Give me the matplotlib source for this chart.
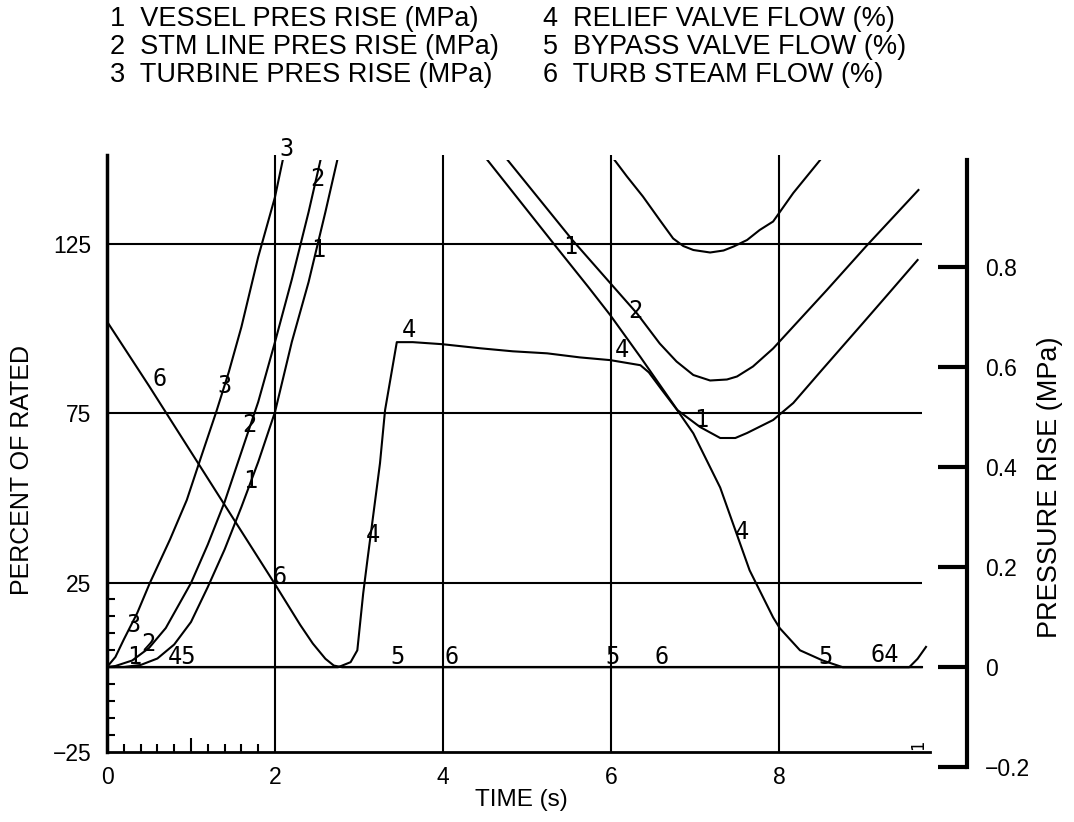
import matplotlib
matplotlib.use("Agg")
import matplotlib.pyplot as plt
import numpy as np

plt.rcParams['font.family'] = ['Liberation Sans', 'DejaVu Sans']

# ---- data ----
# pressure curves (MPa, right scale); NaN = off scale, not drawn
t_vessel = [0, 0.2, 0.4, 0.6, 0.8, 1.0, 1.2, 1.4, 1.6, 1.8, 2.0, 2.2, 2.4, 2.6, 2.75, 2.8,
            np.nan,
            4.45, 4.5, 5.33, 5.73, 5.99, 6.35, 6.79, 7.06, 7.3, 7.48, 7.62, 7.93, 8.17, 8.5, 9.0, 9.3, 9.65]
p_vessel = [0, 0, 0.004, 0.017, 0.045, 0.09, 0.16, 0.235, 0.32, 0.41, 0.51, 0.65, 0.77, 0.91, 1.02, 1.06,
            np.nan,
            1.06, 1.02, 0.844, 0.76, 0.704, 0.62, 0.514, 0.48, 0.458, 0.458, 0.468, 0.494, 0.528, 0.592, 0.688, 0.746, 0.814]

t_stmline = [0, 0.1, 0.3, 0.5, 0.7, 1.0, 1.2, 1.4, 1.6, 1.8, 2.0, 2.2, 2.4, 2.55, 2.62,
             np.nan,
             4.68, 4.74, 5.54, 5.99, 6.31, 6.58, 6.78, 6.98, 7.18, 7.38, 7.5, 7.69, 7.93, 8.57, 9.04, 9.66]
p_stmline = [0, 0.002, 0.013, 0.038, 0.078, 0.168, 0.245, 0.33, 0.43, 0.53, 0.65, 0.775, 0.91, 1.02, 1.07,
             np.nan,
             1.06, 1.02, 0.854, 0.768, 0.707, 0.647, 0.611, 0.584, 0.573, 0.575, 0.581, 0.601, 0.637, 0.754, 0.842, 0.954]

t_turbine = [0, 0.1, 0.2, 0.36, 0.51, 0.75, 0.95, 1.1, 1.3, 1.45, 1.6, 1.8, 2.0, 2.1, 2.15,
             np.nan,
             5.97, 6.19, 6.38, 6.58, 6.74, 6.86, 6.98, 7.18, 7.34, 7.46, 7.62, 7.77, 7.93, 8.17, 8.33, 8.49, 8.55]
p_turbine = [0, 0.02, 0.055, 0.108, 0.168, 0.255, 0.334, 0.41, 0.51, 0.59, 0.68, 0.82, 0.94, 1.02, 1.06,
             np.nan,
             1.03, 0.981, 0.941, 0.894, 0.857, 0.842, 0.834, 0.829, 0.833, 0.841, 0.854, 0.874, 0.891, 0.948, 0.981, 1.014, 1.03]

# flow curves (% of rated, left scale)
t_relief = [0, 2.75, 2.9, 2.98, 3.05, 3.1, 3.25, 3.31, 3.45, 3.64, 3.99, 4.44, 4.83, 5.24, 5.63,
            5.99, 6.35, 6.45, 6.6, 6.79, 6.98, 7.3, 7.65, 7.93, 8.01, 8.25, 8.52, 8.76, 9.7]
f_relief = [0, 0, 1.5, 5, 21.8, 31.6, 60.2, 75.8, 95.9, 95.9, 95.3, 94.1, 93.2, 92.6, 91.4,
            90.6, 89.1, 87, 82, 75.8, 69, 53, 28.6, 14.7, 11.5, 5, 2, 0, 0]

t_bypass = [0, 9.7]
f_bypass = [0, 0]

t_steam = [0, 0.5, 1.0, 1.5, 2.0, 2.3, 2.45, 2.6, 2.7, 2.8, 9.55, 9.65, 9.75]
f_steam = [102, 83, 63.5, 44, 24.5, 12.5, 7, 2.5, 0.5, 0, 0, 2.5, 6]

# curve number tags: (text, time, percent)
tags = [("3", 2.14, 153), ("2", 2.51, 144), ("1", 2.51, 123),
        ("3", 1.40, 83), ("2", 1.70, 71.5), ("1", 1.70, 55),
        ("6", 0.63, 85), ("3", 0.31, 12.5), ("2", 0.49, 7), ("1", 0.33, 3),
        ("45", 0.89, 3), ("6", 2.06, 26.5), ("4", 3.17, 39), ("4", 3.6, 99.5),
        ("5", 3.46, 3), ("6", 4.1, 3), ("1", 5.51, 124), ("2", 6.29, 105),
        ("4", 6.13, 93.5), ("5", 6.02, 3), ("6", 6.6, 3), ("1", 7.08, 73),
        ("4", 7.56, 40), ("5", 8.55, 3), ("64", 9.26, 3.5)]

legend_left = ["1  VESSEL PRES RISE (MPa)", "2  STM LINE PRES RISE (MPa)", "3  TURBINE PRES RISE (MPa)"]
legend_right = ["4  RELIEF VALVE FLOW (%)", "5  BYPASS VALVE FLOW (%)", "6  TURB STEAM FLOW (%)"]

W, H = 1074, 822


def rect(l, t, r, b):
    return [l / W, 1 - b / H, (r - l) / W, (b - t) / H]


fig = plt.figure(figsize=(W / 100, H / 100), dpi=100)

ax1 = fig.add_axes(rect(107, 155, 930, 752))
ax1.set_xlim(0, 823 / 84)
ax1.set_ylim(-25, -25 + 597 / 3.39)

ax2 = fig.add_axes(rect(107, 160, 967, 767))
ax2.set_xlim(0, 860 / 84)
ax2.set_ylim(-0.2, -0.2 + 607 / 500)
ax2.patch.set_visible(False)

# grid
ax1.hlines([125, 75, 25, 0], 0, 9.7, color='black', lw=1.5)
ax1.vlines([2, 4, 6, 8], -25, 152, color='black', lw=1.5)

lw = 1.5
ax2.plot(t_vessel, p_vessel, color='black', lw=lw)
ax2.plot(t_stmline, p_stmline, color='black', lw=lw)
ax2.plot(t_turbine, p_turbine, color='black', lw=lw)
ax1.plot(t_relief, f_relief, color='black', lw=lw)
ax1.plot(t_bypass, f_bypass, color='black', lw=lw)
ax1.plot(t_steam, f_steam, color='black', lw=lw)

for txt, tx, ty in tags:
    ax1.text(tx, ty, txt, family='DejaVu Sans Mono', fontsize=17, ha='center', va='center',
             clip_on=False, zorder=5)
# stray sideways tag at the lower right
ax1.text(9.65, -23, "1", family='DejaVu Sans Mono', fontsize=12, rotation=90,
         ha='center', va='center', zorder=5)

# left / bottom axes
for s in ['top', 'right']:
    ax1.spines[s].set_visible(False)
ax1.spines['left'].set_linewidth(2.5)
ax1.spines['bottom'].set_linewidth(2)
ax1.set_xticks([0, 2, 4, 6, 8])
ax1.set_yticks([125, 75, 25, -25])
ax1.set_yticklabels(['125', '75', '25', '\u221225'])
ax1.tick_params(axis='both', which='major', length=0, labelsize=16.5)
ax1.tick_params(axis='x', which='major', pad=10)
ax1.tick_params(axis='y', which='major', pad=11)
ax1.set_xticks(np.arange(0.2, 1.9, 0.2), minor=True)
ax1.set_yticks(np.arange(-20, 21, 5), minor=True)
ax1.tick_params(which='minor', direction='in', length=6, width=1.5)
ax1.xaxis.get_minor_ticks()[4].tick1line.set_markersize(10)

# right pressure scale
for s in ['top', 'left', 'bottom']:
    ax2.spines[s].set_visible(False)
ax2.spines['right'].set_linewidth(3)
ax2.set_xticks([])
ax2.yaxis.tick_right()
ax2.set_yticks([0.8, 0.6, 0.4, 0.2, 0, -0.2])
ax2.set_yticklabels(['0.8', '0.6', '0.4', '0.2', '0', '\u22120.2'])
ax2.tick_params(axis='y', direction='in', length=21, width=3, labelsize=16.5, pad=13)

fig.text(22 / W, 1 - 470 / H, 'PERCENT OF RATED', rotation=90, fontsize=18, ha='center', va='center')
fig.text(1050 / W, 1 - 487 / H, 'PRESSURE RISE (MPa)', rotation=90, fontsize=19.5, ha='center', va='center')
fig.text(521 / W, 1 - 800 / H, 'TIME (s)', fontsize=17.5, ha='center', va='center')

for i, (a, b) in enumerate(zip(legend_left, legend_right)):
    y = 1 - (19 + 28 * i) / H
    fig.text(110 / W, y, a, fontsize=19.5, ha='left', va='center')
    fig.text(543 / W, y, b, fontsize=19.5, ha='left', va='center')

fig.savefig('out.png', dpi=100)
